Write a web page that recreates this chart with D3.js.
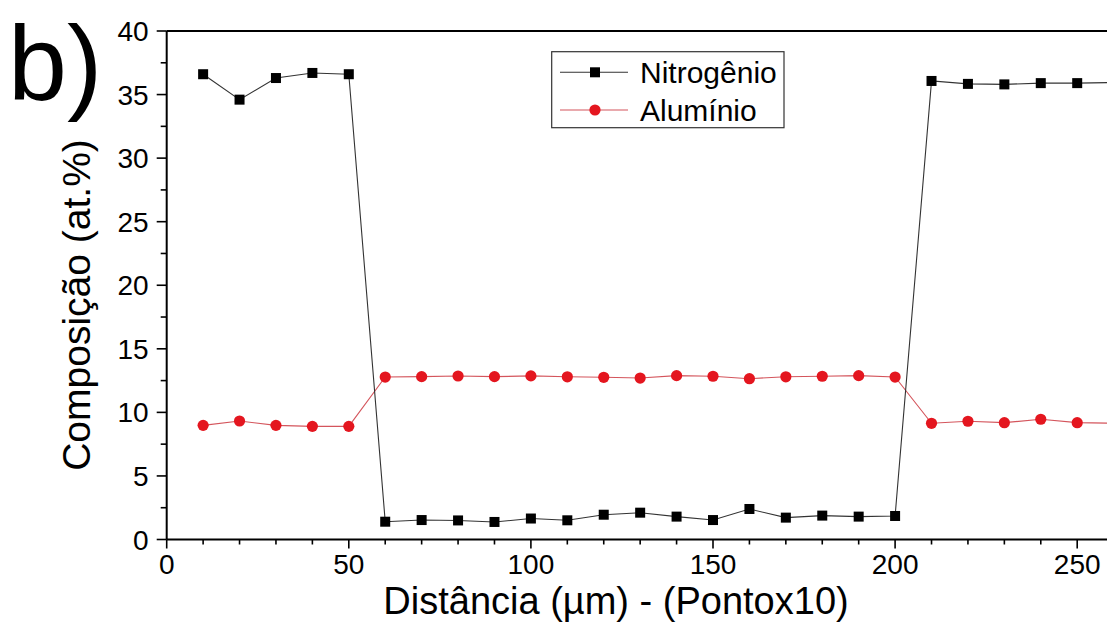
<!DOCTYPE html>
<html>
<head>
<meta charset="utf-8">
<script src="https://cdn.jsdelivr.net/npm/d3@7"></script>
<style>
  html, body { margin: 0; padding: 0; background: #fff; }
  svg { display: block; }
  text { font-family: "Liberation Sans", Arial, sans-serif; fill: #000; }
</style>
</head>
<body>
<svg id="chart" width="1107" height="623"></svg>
<script>
// Measurement positions (µm) and composition (at.%)
const distance = [10, 20, 30, 40, 50, 60, 70, 80, 90, 100, 110, 120, 130,
                  140, 150, 160, 170, 180, 190, 200, 210, 220, 230, 240, 250, 260];
const nitrogenio = [36.6, 34.6, 36.3, 36.7, 36.6, 1.4, 1.53, 1.5, 1.38, 1.65,
                    1.51, 1.95, 2.11, 1.8, 1.53, 2.4, 1.72, 1.88, 1.8, 1.85,
                    36.07, 35.84, 35.8, 35.9, 35.9, 35.95];
const aluminio = [8.98, 9.32, 8.98, 8.9, 8.9, 12.78, 12.81, 12.86, 12.81, 12.87,
                  12.8, 12.76, 12.7, 12.89, 12.84, 12.65, 12.8, 12.84, 12.89, 12.78,
                  9.14, 9.3, 9.19, 9.46, 9.19, 9.15];
const xTicks = [0, 50, 100, 150, 200, 250];
const yTicks = [0, 5, 10, 15, 20, 25, 30, 35, 40];
const seriesNames = ["Nitrogênio", "Alumínio"];

const svg = d3.select("#chart");
const plotLeft = 166.7, plotTop = 31, plotBottom = 539.5;
const x = d3.scaleLinear().domain([0, 280]).range([plotLeft, plotLeft + 280 * 3.642]);
const y = d3.scaleLinear().domain([0, 40]).range([plotBottom, plotTop]);

const red = "#e4161f";
const redLine = "#d4555c";
const blackLine = "#333";

// Series lines
const line = d3.line().x((d, i) => x(distance[i])).y(d => y(d));
svg.append("path").datum(aluminio).attr("d", line)
  .attr("fill", "none").attr("stroke", redLine).attr("stroke-width", 1.1);
svg.append("path").datum(nitrogenio).attr("d", line)
  .attr("fill", "none").attr("stroke", blackLine).attr("stroke-width", 1.1);

// Markers
svg.append("g").selectAll("circle").data(aluminio).join("circle")
  .attr("cx", (d, i) => x(distance[i])).attr("cy", d => y(d))
  .attr("r", 5.6).attr("fill", red);
svg.append("g").selectAll("rect").data(nitrogenio).join("rect")
  .attr("x", (d, i) => x(distance[i]) - 5).attr("y", d => y(d) - 5)
  .attr("width", 10).attr("height", 10).attr("fill", "#000");

// Frame: top border
svg.append("line").attr("x1", plotLeft).attr("x2", 1107).attr("y1", plotTop).attr("y2", plotTop)
  .attr("stroke", "#000").attr("stroke-width", 2);

// X axis
const xMinor = d3.range(0, 281, 10);
const xAxisG = svg.append("g").attr("transform", `translate(0,${plotBottom})`);
xAxisG.append("line").attr("x1", plotLeft).attr("x2", 1107).attr("stroke", "#000").attr("stroke-width", 2);
xAxisG.selectAll("line.tk").data(xMinor).join("line").attr("class", "tk")
  .attr("x1", d => x(d)).attr("x2", d => x(d))
  .attr("y1", 0).attr("y2", d => d % 50 === 0 ? 9 : 5)
  .attr("stroke", "#000").attr("stroke-width", 1.6);
xAxisG.selectAll("text").data(xTicks).join("text")
  .attr("x", d => x(d)).attr("y", 34).attr("text-anchor", "middle")
  .attr("font-size", 28).text(d => d);

// Y axis
const yMinor = d3.range(0, 40.1, 2.5);
const yAxisG = svg.append("g").attr("transform", `translate(${plotLeft},0)`);
yAxisG.append("line").attr("y1", plotTop).attr("y2", plotBottom).attr("stroke", "#000").attr("stroke-width", 2);
yAxisG.selectAll("line.tk").data(yMinor).join("line").attr("class", "tk")
  .attr("y1", d => y(d)).attr("y2", d => y(d))
  .attr("x1", 0).attr("x2", d => d % 5 === 0 ? -10 : -6)
  .attr("stroke", "#000").attr("stroke-width", 1.6);
yAxisG.selectAll("text").data(yTicks).join("text")
  .attr("x", -18).attr("y", d => y(d)).attr("dy", "0.36em").attr("text-anchor", "end")
  .attr("font-size", 28).text(d => d);

// Axis titles
svg.append("text").attr("x", 616).attr("y", 614).attr("text-anchor", "middle")
  .attr("font-size", 38).text("Distância (\u00b5m) - (Pontox10)");
svg.append("text").attr("transform", "translate(90,305) rotate(-90)")
  .attr("text-anchor", "middle").attr("font-size", 39).text("Composição (at.%)");

// Panel label
svg.append("text").attr("x", 8).attr("y", 100).attr("font-size", 106).text("b)");

// Legend
const lg = svg.append("g");
lg.append("rect").attr("x", 551.7).attr("y", 51.7).attr("width", 232.3).attr("height", 76)
  .attr("fill", "#fff").attr("stroke", "#333").attr("stroke-width", 1.2);
const rows = [72.3, 110];
rows.forEach((ry, k) => {
  lg.append("line").attr("x1", 560).attr("x2", 628).attr("y1", ry).attr("y2", ry)
    .attr("stroke", k === 0 ? blackLine : redLine).attr("stroke-width", 1.1);
  if (k === 0) {
    lg.append("rect").attr("x", 590).attr("y", ry - 5).attr("width", 10).attr("height", 10).attr("fill", "#000");
  } else {
    lg.append("circle").attr("cx", 595).attr("cy", ry).attr("r", 5.6).attr("fill", red);
  }
  lg.append("text").attr("x", 640).attr("y", ry + 11).attr("font-size", 30).text(seriesNames[k]);
});
</script>
</body>
</html>
